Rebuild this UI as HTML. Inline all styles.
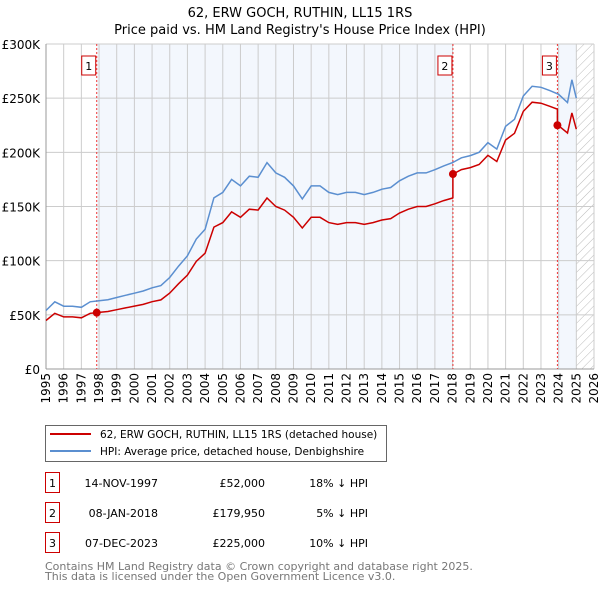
<!DOCTYPE html>
<html><head><meta charset="utf-8">
<style>
body{margin:0;background:#fff;font-family:"Liberation Sans","DejaVu Sans",sans-serif;}
svg text{font-family:"DejaVu Sans","Liberation Sans",sans-serif;}
</style></head>
<body>
<svg id="c" width="600" height="590" xmlns="http://www.w3.org/2000/svg">
<defs><pattern id="hatch" width="6" height="6" patternUnits="userSpaceOnUse" patternTransform="rotate(45)"><line x1="0" y1="0" x2="0" y2="6" stroke="#bbb" stroke-width="1"/></pattern></defs>
<text x="300" y="17" text-anchor="middle" font-size="13">62, ERW GOCH, RUTHIN, LL15 1RS</text>
<text x="300" y="34" text-anchor="middle" font-size="13">Price paid vs. HM Land Registry's House Price Index (HPI)</text>
<g id="plot"></g>
<g>
<rect x="45.5" y="425.5" width="341" height="36" fill="#fff" stroke="#666"/>
<line x1="50" y1="434" x2="91" y2="434" stroke="#cc0000" stroke-width="2"/>
<text x="100" y="438" font-size="10.5">62, ERW GOCH, RUTHIN, LL15 1RS (detached house)</text>
<line x1="50" y1="451" x2="91" y2="451" stroke="#5b8fd0" stroke-width="2"/>
<text x="100" y="455" font-size="10.5">HPI: Average price, detached house, Denbighshire</text>
</g>
<g id="table" font-size="11"></g>
<text x="45" y="570" font-size="11" fill="#777">Contains HM Land Registry data © Crown copyright and database right 2025.</text>
<text x="45" y="580" font-size="11" fill="#777">This data is licensed under the Open Government Licence v3.0.</text>
</svg>
<script>
const hpiYears=[1995,1995.5,1996,1996.5,1997,1997.5,1998,1998.5,1999,1999.5,2000,2000.5,2001,2001.5,2002,2002.5,2003,2003.5,2004,2004.5,2005,2005.5,2006,2006.5,2007,2007.5,2008,2008.5,2009,2009.5,2010,2010.5,2011,2011.5,2012,2012.5,2013,2013.5,2014,2014.5,2015,2015.5,2016,2016.5,2017,2017.5,2018,2018.5,2019,2019.5,2020,2020.5,2021,2021.5,2022,2022.5,2023,2023.5,2024,2024.5,2024.75,2025];
const hpiValues=[54,62,58,58,57,62,63,64,66,68,70,72,75,77,84.5,95,104.5,120,129,158,163,175,169,178,177,190.5,181,177,169,157,169,169,163,161,163,163,161,163,166,167.5,173.7,178,181,181,184,187.5,190.5,195,197,200,209,203,224,230.5,252,261,260,257,253.6,246,267,250];
const saleDates=[1997.87,2018.02,2023.93];
const saleLabels=["14-NOV-1997","08-JAN-2018","07-DEC-2023"];
const salePrices=[52000,179950,225000];
const salePriceText=["£52,000","£179,950","£225,000"];
const saleDiffText=["18% ↓ HPI","5% ↓ HPI","10% ↓ HPI"];
const yTicks=[0,50,100,150,200,250,300];
const yTickLabels=["£0","£50K","£100K","£150K","£200K","£250K","£300K"];
const xTicks=[1995,1996,1997,1998,1999,2000,2001,2002,2003,2004,2005,2006,2007,2008,2009,2010,2011,2012,2013,2014,2015,2016,2017,2018,2019,2020,2021,2022,2023,2024,2025,2026];

const NS="http://www.w3.org/2000/svg";
const X0=46,X1=594,Y0=369,Y1=44;
const xs=y=>X0+(y-1995)/(2026-1995)*(X1-X0);
const ys=v=>Y0-v/300*(Y0-Y1);
const plot=document.getElementById('plot');
function mk(tag,attrs,parent){const e=document.createElementNS(NS,tag);for(const k in attrs)e.setAttribute(k,attrs[k]);(parent||plot).appendChild(e);return e;}
function hpiAt(t){for(let i=0;i<hpiYears.length-1;i++){if(t<=hpiYears[i+1]){const f=(t-hpiYears[i])/(hpiYears[i+1]-hpiYears[i]);return hpiValues[i]+f*(hpiValues[i+1]-hpiValues[i]);}}return hpiValues[hpiValues.length-1];}

let r=mk('rect',{x:xs(saleDates[0]),y:Y1,width:xs(saleDates[1])-xs(saleDates[0]),height:Y0-Y1,fill:'#eef3fc',opacity:0.7});


r=mk('rect',{x:xs(saleDates[2]),y:Y1,width:xs(2025)-xs(saleDates[2]),height:Y0-Y1,fill:'#eef3fc',opacity:0.7});


r=mk('rect',{x:xs(2025),y:Y1,width:xs(2026)-xs(2025),height:Y0-Y1,fill:'url(#hatch)'});


xTicks.forEach(t=>{const l=mk('line',{x1:xs(t),x2:xs(t),y1:Y1,y2:Y0,stroke:'#ccc','stroke-width':1});


const tx=mk('text',{x:0,y:0,'font-size':12,'text-anchor':'end',transform:`translate(${xs(t)+4},${Y0+4}) rotate(-90)`});tx.textContent=t;

});
yTicks.forEach((v,i)=>{const l=mk('line',{x1:X0,x2:X1,y1:ys(v),y2:ys(v),stroke:'#ccc','stroke-width':1});


const tx=mk('text',{x:X0-6,y:ys(v)+5,'font-size':12,'text-anchor':'end'});tx.textContent=yTickLabels[i];

});
mk('line',{x1:X0,x2:X0,y1:Y1,y2:Y0,stroke:'#999'});
mk('line',{x1:X0,x2:X1,y1:Y0,y2:Y0,stroke:'#999'});
saleDates.forEach((d,i)=>{const l=mk('line',{x1:xs(d),x2:xs(d),y1:Y1,y2:Y0,stroke:'#e33','stroke-dasharray':'2,2','stroke-width':1});


const bx=xs(d)-15;
const b=mk('rect',{x:bx,y:56,width:14,height:19,fill:'#fff',stroke:'#cc0000'});


const t=mk('text',{x:bx+7,y:70,'font-size':11,'text-anchor':'middle'});t.textContent=i+1;});
let pts=hpiYears.map((y,i)=>xs(y).toFixed(1)+','+ys(hpiValues[i]).toFixed(1)).join(' ');
const hl=mk('polyline',{points:pts,fill:'none',stroke:'#5b8fd0','stroke-width':1.5});


const ratios=saleDates.map((d,i)=>salePrices[i]/1000/hpiAt(d));
function ratioAt(t){let k=0;for(let i=0;i<saleDates.length;i++)if(t>=saleDates[i])k=i;return ratios[k];}
const rp=[];
const times=hpiYears.slice();saleDates.forEach(d=>{times.push(d-0.001,d);});times.sort((a,b)=>a-b);
times.forEach(t=>rp.push(xs(t).toFixed(1)+','+ys(hpiAt(t)*ratioAt(t)).toFixed(1)));
const pl=mk('polyline',{points:rp.join(' '),fill:'none',stroke:'#cc0000','stroke-width':1.5});


saleDates.forEach((d,i)=>{const c=mk('circle',{cx:xs(d),cy:ys(salePrices[i]/1000),r:4,fill:'#cc0000'});

});
const tb=document.getElementById('table');
saleDates.forEach((d,i)=>{const y=483+i*30;
const b=mk('rect',{x:45.5,y:y-10.5,width:14,height:20,fill:'#fff',stroke:'#cc0000'},tb);


let t=mk('text',{x:52.5,y:y+4,'text-anchor':'middle'},tb);t.textContent=i+1;
t=mk('text',{x:158,y:y+4,'text-anchor':'end'},tb);t.textContent=saleLabels[i];


t=mk('text',{x:265,y:y+4,'text-anchor':'end'},tb);t.textContent=salePriceText[i];


t=mk('text',{x:368,y:y+4,'text-anchor':'end'},tb);t.textContent=saleDiffText[i];

});
</script>
</body></html>
